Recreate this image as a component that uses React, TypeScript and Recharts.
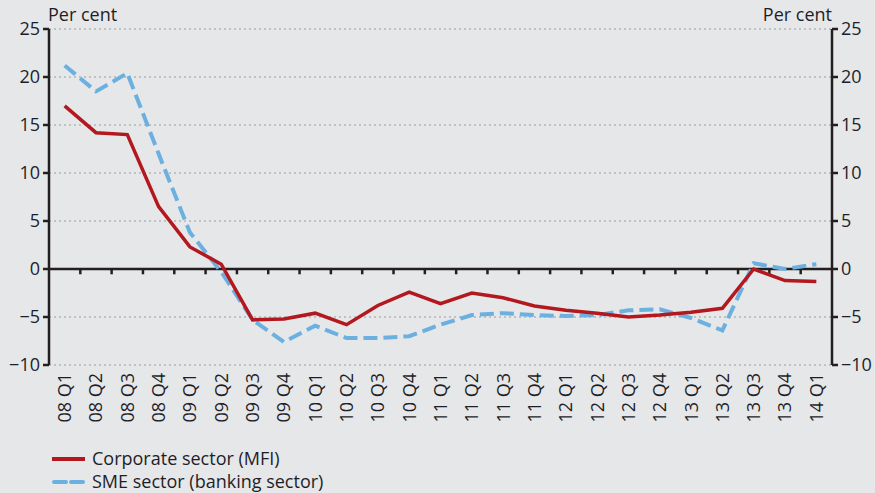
import React from 'react';
import { LineChart, Line, XAxis, YAxis, CartesianGrid, ReferenceLine } from 'recharts';

const quarters = [
  '08 Q1', '08 Q2', '08 Q3', '08 Q4', '09 Q1', '09 Q2', '09 Q3', '09 Q4',
  '10 Q1', '10 Q2', '10 Q3', '10 Q4', '11 Q1', '11 Q2', '11 Q3', '11 Q4',
  '12 Q1', '12 Q2', '12 Q3', '12 Q4', '13 Q1', '13 Q2', '13 Q3', '13 Q4', '14 Q1',
];

const corporate = [
  17.0, 14.2, 14.0, 6.5, 2.3, 0.5, -5.3, -5.2, -4.6, -5.8, -3.8, -2.4, -3.6,
  -2.5, -3.0, -3.85, -4.3, -4.6, -5.0, -4.8, -4.5, -4.1, 0.0, -1.2, -1.3,
];

const sme = [
  21.2, 18.5, 20.4, 12.0, 3.8, -0.3, -5.3, -7.6, -5.9, -7.2, -7.2, -7.0, -5.8,
  -4.8, -4.6, -4.8, -4.9, -4.8, -4.3, -4.2, -5.1, -6.4, 0.6, 0.0, 0.5,
];

const yTicks = [-10, -5, 0, 5, 10, 15, 20, 25];

const data = quarters.map((q, i) => ({ i, label: q, corporate: corporate[i], sme: sme[i] }));
const xTicks = quarters.map((_, i) => i);
const boundaries = quarters.slice(1).map((_, i) => i + 0.5);

const FONT = '"Open Sans", sans-serif';
const FS = 18;
const TEXT = '#1e1e28';
const AXIS = '#231f20';
const RED = '#b2181e';
const BLUE = '#6cb0e0';

const fmtY = (v: number) => (v < 0 ? `\u2212${-v}` : `${v}`);

const QuarterTick = (props: any) => {
  const { x, y, payload } = props;
  return (
    <text
      x={x}
      y={y}
      transform={`rotate(-90, ${x}, ${y})`}
      textAnchor="end"
      dy="0.36em"
      fontSize={FS}
      fontFamily={FONT}
      fill={TEXT}
    >
      {quarters[payload.value]}
    </text>
  );
};

export default function App() {
  return (
    <div
      style={{
        position: 'absolute',
        left: 0,
        top: 0,
        width: 875,
        height: 493,
        background: '#e6e7e9',
        fontFamily: FONT,
        color: TEXT,
      }}
    >
      <span style={{ position: 'absolute', left: 48, top: 2, fontSize: FS }}>Per cent</span>
      <span style={{ position: 'absolute', right: 43, top: 2, fontSize: FS }}>Per cent</span>

      <LineChart
        width={875}
        height={493}
        data={data}
        margin={{ top: 29, right: 0, left: 0, bottom: 58 }}
      >
        <CartesianGrid
          yAxisId="left"
          vertical={false}
          stroke="#9a9a9a"
          strokeDasharray="2 3"
        />
        <XAxis
          dataKey="i"
          type="number"
          domain={[-0.5, 24.5]}
          ticks={xTicks}
          interval={0}
          axisLine={false}
          tickLine={false}
          tickSize={0}
          tickMargin={8}
          height={70}
          tick={<QuarterTick />}
        />
        <YAxis
          yAxisId="left"
          domain={[-10, 25]}
          ticks={yTicks}
          width={49}
          tickSize={6}
          tickMargin={3}
          tickFormatter={fmtY}
          axisLine={{ stroke: AXIS, strokeWidth: 2.5 }}
          tickLine={{ stroke: AXIS, strokeWidth: 2.5 }}
          tick={{ fontSize: FS, fill: TEXT, fontFamily: FONT }}
        />
        <YAxis
          yAxisId="right"
          orientation="right"
          domain={[-10, 25]}
          ticks={yTicks}
          width={43}
          tickSize={6}
          tickMargin={3}
          tickFormatter={fmtY}
          axisLine={{ stroke: AXIS, strokeWidth: 2.5 }}
          tickLine={{ stroke: AXIS, strokeWidth: 2.5 }}
          tick={{ fontSize: FS, fill: TEXT, fontFamily: FONT }}
        />

        {/* zero line with its quarter ticks */}
        <ReferenceLine yAxisId="left" y={0} stroke={AXIS} strokeWidth={2.5} />
        {boundaries.map((b) => (
          <ReferenceLine
            key={b}
            yAxisId="left"
            segment={[{ x: b, y: 0 }, { x: b, y: -0.55 }]}
            stroke={AXIS}
            strokeWidth={2.5}
          />
        ))}

        <Line
          yAxisId="right"
          dataKey="sme"
          stroke={BLUE}
          strokeWidth={4}
          strokeDasharray="14 6"
          dot={false}
          activeDot={false}
          isAnimationActive={false}
        />
        <Line
          yAxisId="left"
          dataKey="corporate"
          stroke={RED}
          strokeWidth={3.5}
          dot={false}
          activeDot={false}
          isAnimationActive={false}
        />
      </LineChart>

      {/* Legend */}
      <div style={{ position: 'absolute', left: 52, top: 447, fontSize: FS, lineHeight: '23px' }}>
        <div style={{ display: 'flex', alignItems: 'center' }}>
          <svg width={33} height={6} style={{ marginRight: 7 }}>
            <line x1={0} y1={3} x2={33} y2={3} stroke={RED} strokeWidth={4} strokeLinecap="round" />
          </svg>
          <span>Corporate sector (MFI)</span>
        </div>
        <div style={{ display: 'flex', alignItems: 'center' }}>
          <svg width={33} height={6} style={{ marginRight: 7 }}>
            <line x1={2} y1={3} x2={31} y2={3} stroke={BLUE} strokeWidth={4} strokeDasharray="12 5" strokeLinecap="round" />
          </svg>
          <span>SME sector (banking sector)</span>
        </div>
      </div>
    </div>
  );
}
